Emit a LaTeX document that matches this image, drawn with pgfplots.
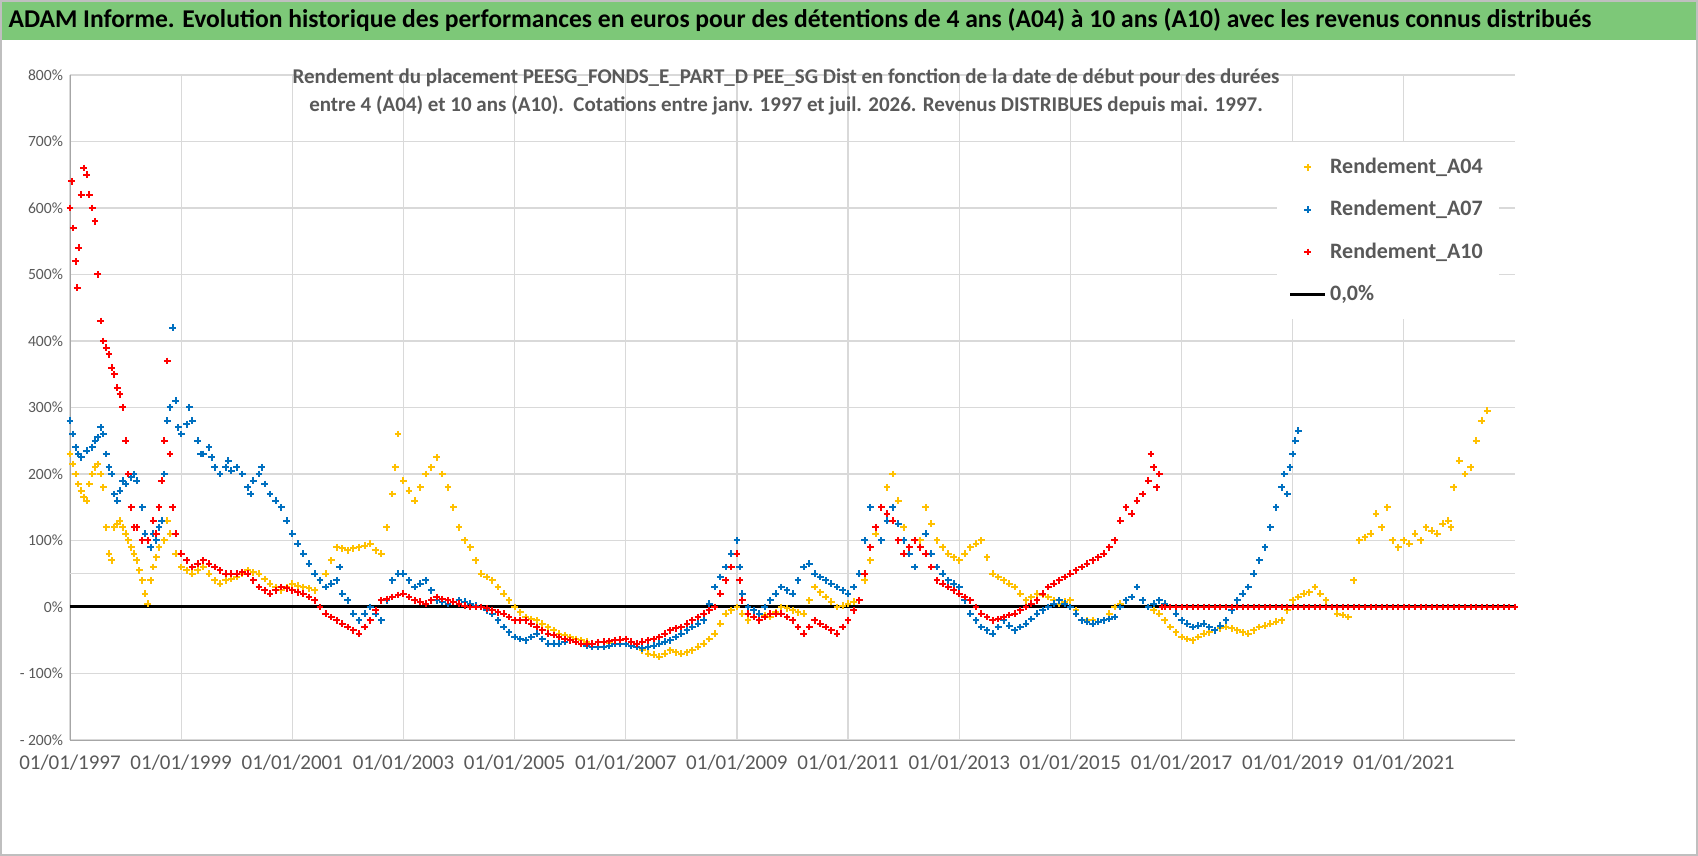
\documentclass[border=0pt]{standalone}
\usepackage{pgfplots}
\pgfplotsset{compat=1.18}
\usepackage{fontspec}
\setmainfont{Carlito}
\definecolor{cy}{RGB}{255,192,0}
\definecolor{cb}{RGB}{0,112,192}
\definecolor{cr}{RGB}{255,0,0}
\definecolor{banner}{RGB}{125,200,120}
\definecolor{tg}{RGB}{89,89,89}
\begin{document}
\begin{tikzpicture}
\useasboundingbox (0,0) rectangle (849pt,428pt);
\fill[banner] (0,408pt) rectangle (849pt,428pt);
\node[font=\bfseries\fontsize{12.8}{14}\selectfont] at (400pt,418pt) {ADAM Informe. Evolution historique des performances en euros pour des détentions de 4 ans (A04) à 10 ans (A10) avec les revenus connus distribués};
\begin{axis}[at={(35pt,58pt)},anchor=south west,scale only axis,width=722.5pt,height=332.5pt,
 xmin=1997,xmax=2023,ymin=-200,ymax=800,
 axis lines=left, axis line style={-,gray!70},
 xtick={1997,1999,...,2021},
 xticklabels={01/01/1997,01/01/1999,01/01/2001,01/01/2003,01/01/2005,01/01/2007,01/01/2009,01/01/2011,01/01/2013,01/01/2015,01/01/2017,01/01/2019,01/01/2021},
 ytick={-200,-100,...,800},
 yticklabels={- 200\%,- 100\%,0\%,100\%,200\%,300\%,400\%,500\%,600\%,700\%,800\%},
 grid=major, grid style={gray!30, line width=0.6pt}, major tick length=0,
 y tick label style={font=\fontsize{7.8}{9}\selectfont, text=tg},
 x tick label style={font=\fontsize{10.5}{12}\selectfont, text=tg, yshift=-4pt},
 /pgf/number format/assume math mode=true,
 legend style={at={(0.835,0.90)},anchor=north west,draw=none,fill=white,font=\fontsize{11}{12}\selectfont\bfseries,text=tg,row sep=8pt,inner sep=6pt},
 legend cell align=left,
 every axis plot/.append style={line width=1pt}]
\addplot[gray!30, line width=0.6pt, forget plot] coordinates {(1997,50)(2023,50)};
\addplot[cy, only marks, mark=+, mark size=1.7pt] coordinates {
(1997.0,230)(1997.05,215)(1997.1,200)(1997.15,185)(1997.2,175)(1997.25,165)(1997.3,160)(1997.35,185)(1997.4,200)(1997.45,210)(1997.5,215)(1997.55,200)(1997.6,180)(1997.65,120)(1997.7,80)(1997.75,70)(1997.8,120)(1997.85,125)(1997.9,130)(1997.95,120)(1998.0,110)(1998.05,100)(1998.1,90)(1998.15,80)(1998.2,70)(1998.25,55)(1998.3,40)(1998.35,20)(1998.4,5)(1998.45,40)(1998.5,60)(1998.55,75)(1998.6,90)(1998.7,100)(1998.75,130)(1998.8,110)(1998.9,80)(1999.0,60)(1999.1,55)(1999.2,50)(1999.3,55)(1999.4,60)(1999.5,50)(1999.6,40)(1999.7,35)(1999.8,40)(1999.9,42)(2000.0,45)(2000.1,50)(2000.2,55)(2000.3,52)(2000.4,50)(2000.5,42)(2000.6,35)(2000.7,30)(2000.8,25)(2000.9,30)(2001.0,35)(2001.1,32)(2001.2,30)(2001.3,28)(2001.4,25)(2001.5,40)(2001.6,50)(2001.7,70)(2001.8,90)(2001.9,88)(2002.0,85)(2002.1,88)(2002.2,90)(2002.3,92)(2002.4,95)(2002.5,85)(2002.6,80)(2002.7,120)(2002.8,170)(2002.85,210)(2002.9,260)(2003.0,190)(2003.1,175)(2003.2,160)(2003.3,180)(2003.4,200)(2003.5,210)(2003.6,225)(2003.7,200)(2003.8,180)(2003.9,150)(2004.0,120)(2004.1,100)(2004.2,90)(2004.3,70)(2004.4,50)(2004.5,45)(2004.6,40)(2004.7,30)(2004.8,20)(2004.9,10)(2005.0,0)(2005.1,-8)(2005.2,-15)(2005.3,-18)(2005.4,-20)(2005.5,-25)(2005.6,-30)(2005.7,-35)(2005.8,-40)(2005.9,-42)(2006.0,-45)(2006.1,-48)(2006.2,-50)(2006.3,-52)(2006.4,-55)(2006.5,-53)(2006.6,-52)(2006.7,-54)(2006.8,-55)(2006.9,-55)(2007.0,-55)(2007.1,-58)(2007.2,-60)(2007.3,-65)(2007.4,-70)(2007.5,-72)(2007.6,-75)(2007.7,-70)(2007.8,-65)(2007.9,-68)(2008.0,-70)(2008.1,-68)(2008.2,-65)(2008.3,-60)(2008.4,-55)(2008.5,-48)(2008.6,-40)(2008.7,-25)(2008.8,-10)(2008.9,-5)(2009.0,0)(2009.1,-10)(2009.2,-20)(2009.3,-15)(2009.4,-10)(2009.5,-12)(2009.6,-15)(2009.7,-8)(2009.8,0)(2009.9,-2)(2010.0,-5)(2010.1,-8)(2010.2,-10)(2010.3,10)(2010.4,30)(2010.5,22)(2010.6,15)(2010.7,8)(2010.8,0)(2010.9,2)(2011.0,5)(2011.1,8)(2011.2,10)(2011.3,40)(2011.4,70)(2011.5,110)(2011.6,150)(2011.7,180)(2011.8,200)(2011.9,160)(2012.0,120)(2012.1,90)(2012.2,60)(2012.3,100)(2012.4,150)(2012.5,125)(2012.6,100)(2012.7,90)(2012.8,80)(2012.9,75)(2013.0,70)(2013.1,80)(2013.2,90)(2013.3,95)(2013.4,100)(2013.5,75)(2013.6,50)(2013.7,45)(2013.8,40)(2013.9,35)(2014.0,30)(2014.1,20)(2014.2,10)(2014.3,15)(2014.4,20)(2014.5,18)(2014.6,15)(2014.7,10)(2014.8,5)(2014.9,8)(2015.0,10)(2015.1,-5)(2015.2,-20)(2015.3,-20)(2015.4,-20)(2015.5,-22)(2015.6,-20)(2015.7,-10)(2015.8,0)(2015.9,5)(2016.0,10)(2016.1,15)(2016.2,30)(2016.3,10)(2016.4,0)(2016.5,-5)(2016.6,-10)(2016.7,-20)(2016.8,-30)(2016.9,-38)(2017.0,-45)(2017.1,-48)(2017.2,-50)(2017.3,-45)(2017.4,-40)(2017.5,-38)(2017.6,-35)(2017.7,-32)(2017.8,-30)(2017.9,-32)(2018.0,-35)(2018.1,-38)(2018.2,-40)(2018.3,-35)(2018.4,-30)(2018.5,-28)(2018.6,-25)(2018.7,-22)(2018.8,-20)(2018.9,-5)(2019.0,10)(2019.1,15)(2019.2,20)(2019.3,22)(2019.4,30)(2019.5,20)(2019.6,10)(2019.7,0)(2019.8,-10)(2019.9,-12)(2020.0,-15)(2020.1,40)(2020.2,100)(2020.3,105)(2020.4,110)(2020.5,140)(2020.6,120)(2020.7,150)(2020.8,100)(2020.9,90)(2021.0,100)(2021.1,95)(2021.2,110)(2021.3,100)(2021.4,120)(2021.5,115)(2021.6,110)(2021.7,125)(2021.8,130)(2021.85,120)(2021.9,180)(2022.0,220)(2022.1,200)(2022.2,210)(2022.3,250)(2022.4,280)(2022.5,295)
};
\addlegendentry{Rendement\_A04}
\addplot[cb, only marks, mark=+, mark size=1.7pt] coordinates {
(1997.0,280)(1997.05,260)(1997.1,240)(1997.15,230)(1997.2,225)(1997.3,235)(1997.4,240)(1997.45,250)(1997.5,255)(1997.55,270)(1997.6,260)(1997.65,230)(1997.7,210)(1997.75,200)(1997.8,170)(1997.85,160)(1997.9,175)(1997.95,190)(1998.0,185)(1998.1,195)(1998.15,200)(1998.2,190)(1998.3,150)(1998.35,110)(1998.4,100)(1998.45,90)(1998.5,110)(1998.55,100)(1998.6,120)(1998.65,130)(1998.7,200)(1998.75,280)(1998.8,300)(1998.85,420)(1998.9,310)(1998.95,270)(1999.0,260)(1999.1,275)(1999.15,300)(1999.2,280)(1999.3,250)(1999.35,230)(1999.4,230)(1999.5,240)(1999.55,225)(1999.6,210)(1999.7,200)(1999.8,210)(1999.85,220)(1999.9,205)(2000.0,210)(2000.1,200)(2000.2,180)(2000.25,170)(2000.3,190)(2000.4,200)(2000.45,210)(2000.5,185)(2000.6,170)(2000.7,160)(2000.8,150)(2000.9,130)(2001.0,110)(2001.1,95)(2001.2,80)(2001.3,65)(2001.4,50)(2001.5,40)(2001.6,30)(2001.7,35)(2001.8,40)(2001.85,60)(2001.9,20)(2002.0,10)(2002.1,-10)(2002.2,-20)(2002.3,-10)(2002.4,0)(2002.5,-10)(2002.6,-20)(2002.7,10)(2002.8,40)(2002.9,50)(2003.0,50)(2003.1,40)(2003.2,30)(2003.3,35)(2003.4,40)(2003.5,25)(2003.6,10)(2003.7,8)(2003.8,5)(2003.9,8)(2004.0,10)(2004.1,8)(2004.2,5)(2004.3,2)(2004.4,0)(2004.5,-5)(2004.6,-10)(2004.7,-20)(2004.8,-30)(2004.9,-38)(2005.0,-45)(2005.1,-48)(2005.2,-50)(2005.3,-45)(2005.4,-40)(2005.5,-48)(2005.6,-55)(2005.7,-55)(2005.8,-55)(2005.9,-52)(2006.0,-50)(2006.1,-52)(2006.2,-55)(2006.3,-58)(2006.4,-60)(2006.5,-60)(2006.6,-60)(2006.7,-58)(2006.8,-55)(2006.9,-55)(2007.0,-55)(2007.1,-58)(2007.2,-60)(2007.3,-62)(2007.4,-60)(2007.5,-58)(2007.6,-55)(2007.7,-52)(2007.8,-50)(2007.9,-45)(2008.0,-40)(2008.1,-35)(2008.2,-30)(2008.3,-25)(2008.4,-20)(2008.5,5)(2008.6,30)(2008.7,45)(2008.8,60)(2008.9,80)(2009.0,100)(2009.05,60)(2009.1,20)(2009.2,0)(2009.3,-5)(2009.4,-10)(2009.5,0)(2009.6,10)(2009.7,20)(2009.8,30)(2009.9,25)(2010.0,20)(2010.1,40)(2010.2,60)(2010.3,65)(2010.4,50)(2010.5,45)(2010.6,40)(2010.7,35)(2010.8,30)(2010.9,25)(2011.0,20)(2011.1,30)(2011.2,50)(2011.3,100)(2011.4,150)(2011.5,120)(2011.6,100)(2011.7,130)(2011.8,150)(2011.9,125)(2012.0,100)(2012.1,80)(2012.2,60)(2012.3,90)(2012.4,110)(2012.5,80)(2012.6,60)(2012.7,50)(2012.8,40)(2012.9,35)(2013.0,30)(2013.1,10)(2013.2,-10)(2013.3,-20)(2013.4,-30)(2013.5,-35)(2013.6,-40)(2013.7,-30)(2013.8,-20)(2013.9,-28)(2014.0,-35)(2014.1,-30)(2014.2,-25)(2014.3,-18)(2014.4,-10)(2014.5,-5)(2014.6,0)(2014.7,5)(2014.8,10)(2014.9,5)(2015.0,0)(2015.1,-10)(2015.2,-20)(2015.3,-22)(2015.4,-25)(2015.5,-22)(2015.6,-20)(2015.7,-18)(2015.8,-15)(2015.9,0)(2016.0,10)(2016.1,15)(2016.2,30)(2016.3,10)(2016.4,0)(2016.5,5)(2016.6,10)(2016.7,5)(2016.8,0)(2016.9,-10)(2017.0,-20)(2017.1,-25)(2017.2,-30)(2017.3,-28)(2017.4,-25)(2017.5,-30)(2017.6,-35)(2017.7,-28)(2017.8,-20)(2017.9,-5)(2018.0,10)(2018.1,20)(2018.2,30)(2018.3,50)(2018.4,70)(2018.5,90)(2018.6,120)(2018.7,150)(2018.8,180)(2018.85,200)(2018.9,170)(2018.95,210)(2019.0,230)(2019.05,250)(2019.1,265)
};
\addlegendentry{Rendement\_A07}
\addplot[cr, only marks, mark=+, mark size=1.7pt] coordinates {
(1997.0,600)(1997.03,640)(1997.06,570)(1997.1,520)(1997.13,480)(1997.16,540)(1997.2,620)(1997.25,660)(1997.3,650)(1997.35,620)(1997.4,600)(1997.45,580)(1997.5,500)(1997.55,430)(1997.6,400)(1997.65,390)(1997.7,380)(1997.75,360)(1997.8,350)(1997.85,330)(1997.9,320)(1997.95,300)(1998.0,250)(1998.05,200)(1998.1,150)(1998.15,120)(1998.2,120)(1998.3,100)(1998.4,100)(1998.5,130)(1998.55,110)(1998.6,150)(1998.65,190)(1998.7,250)(1998.75,370)(1998.8,230)(1998.85,150)(1998.9,110)(1999.0,80)(1999.1,70)(1999.2,60)(1999.3,65)(1999.4,70)(1999.5,65)(1999.6,60)(1999.7,55)(1999.8,50)(1999.9,50)(2000.0,50)(2000.1,52)(2000.2,50)(2000.3,40)(2000.4,30)(2000.5,25)(2000.6,20)(2000.7,25)(2000.8,30)(2000.9,28)(2001.0,25)(2001.1,22)(2001.2,20)(2001.3,15)(2001.4,10)(2001.5,0)(2001.6,-10)(2001.7,-15)(2001.8,-20)(2001.9,-25)(2002.0,-30)(2002.1,-35)(2002.2,-40)(2002.3,-30)(2002.4,-20)(2002.5,-5)(2002.6,10)(2002.7,12)(2002.8,15)(2002.9,18)(2003.0,20)(2003.1,15)(2003.2,10)(2003.3,8)(2003.4,5)(2003.5,10)(2003.6,15)(2003.7,12)(2003.8,10)(2003.9,8)(2004.0,5)(2004.1,2)(2004.2,0)(2004.3,0)(2004.4,0)(2004.5,-2)(2004.6,-5)(2004.7,-8)(2004.8,-10)(2004.9,-15)(2005.0,-20)(2005.1,-20)(2005.2,-20)(2005.3,-25)(2005.4,-30)(2005.5,-35)(2005.6,-40)(2005.7,-42)(2005.8,-45)(2005.9,-48)(2006.0,-50)(2006.1,-52)(2006.2,-55)(2006.3,-55)(2006.4,-55)(2006.5,-53)(2006.6,-52)(2006.7,-51)(2006.8,-50)(2006.9,-49)(2007.0,-48)(2007.1,-52)(2007.2,-55)(2007.3,-52)(2007.4,-50)(2007.5,-48)(2007.6,-45)(2007.7,-40)(2007.8,-35)(2007.9,-32)(2008.0,-30)(2008.1,-25)(2008.2,-20)(2008.3,-15)(2008.4,-10)(2008.5,-5)(2008.6,0)(2008.7,20)(2008.8,40)(2008.9,60)(2009.0,80)(2009.05,40)(2009.1,10)(2009.2,-10)(2009.3,-15)(2009.4,-20)(2009.5,-15)(2009.6,-10)(2009.7,-10)(2009.8,-10)(2009.9,-15)(2010.0,-20)(2010.1,-30)(2010.2,-40)(2010.3,-30)(2010.4,-20)(2010.5,-25)(2010.6,-30)(2010.7,-35)(2010.8,-40)(2010.9,-30)(2011.0,-20)(2011.1,-5)(2011.2,10)(2011.3,50)(2011.4,90)(2011.5,120)(2011.6,150)(2011.7,140)(2011.8,130)(2011.9,100)(2012.0,80)(2012.1,90)(2012.2,100)(2012.3,90)(2012.4,80)(2012.5,60)(2012.6,40)(2012.7,35)(2012.8,30)(2012.9,25)(2013.0,20)(2013.1,15)(2013.2,10)(2013.3,0)(2013.4,-10)(2013.5,-15)(2013.6,-20)(2013.7,-18)(2013.8,-15)(2013.9,-12)(2014.0,-10)(2014.1,-5)(2014.2,0)(2014.3,5)(2014.4,10)(2014.5,20)(2014.6,30)(2014.7,35)(2014.8,40)(2014.9,45)(2015.0,50)(2015.1,55)(2015.2,60)(2015.3,65)(2015.4,70)(2015.5,75)(2015.6,80)(2015.7,90)(2015.8,100)(2015.9,130)(2016.0,150)(2016.1,140)(2016.2,160)(2016.3,170)(2016.4,190)(2016.45,230)(2016.5,210)(2016.55,180)(2016.6,200)
(2016.65,0)(2016.7,0)(2016.8,0)(2016.9,0)(2017.0,0)(2017.1,0)(2017.2,0)(2017.3,0)(2017.4,0)(2017.5,0)(2017.6,0)(2017.7,0)(2017.8,0)(2017.9,0)(2018.0,0)(2018.1,0)(2018.2,0)(2018.3,0)(2018.4,0)(2018.5,0)(2018.6,0)(2018.7,0)(2018.8,0)(2018.9,0)(2019.0,0)(2019.1,0)(2019.2,0)(2019.3,0)(2019.4,0)(2019.5,0)(2019.6,0)(2019.7,0)(2019.8,0)(2019.9,0)(2020.0,0)(2020.1,0)(2020.2,0)(2020.3,0)(2020.4,0)(2020.5,0)(2020.6,0)(2020.7,0)(2020.8,0)(2020.9,0)(2021.0,0)(2021.1,0)(2021.2,0)(2021.3,0)(2021.4,0)(2021.5,0)(2021.6,0)(2021.7,0)(2021.8,0)(2021.9,0)(2022.0,0)(2022.1,0)(2022.2,0)(2022.3,0)(2022.4,0)(2022.5,0)(2022.6,0)(2022.7,0)(2022.8,0)(2022.9,0)(2023.0,0)
};
\addlegendentry{Rendement\_A10}
\addplot[black, line width=1.5pt] coordinates {(1997,0)(2023,0)};
\addlegendentry{0,0\%}
\end{axis}
\node[align=center,font=\bfseries\fontsize{10.5}{14}\selectfont,text=tg] at (393pt,382pt) {Rendement du placement PEESG\_FONDS\_E\_PART\_D PEE\_SG Dist en fonction de la date de début pour des durées\\entre 4 (A04) et 10 ans (A10).\ \ Cotations entre janv. 1997 et juil. 2026. Revenus DISTRIBUES depuis mai. 1997.};
\draw[gray!50, line width=0.8pt] (0.4pt,0.4pt) rectangle (848.6pt,427.6pt);
\end{tikzpicture}
\end{document}
